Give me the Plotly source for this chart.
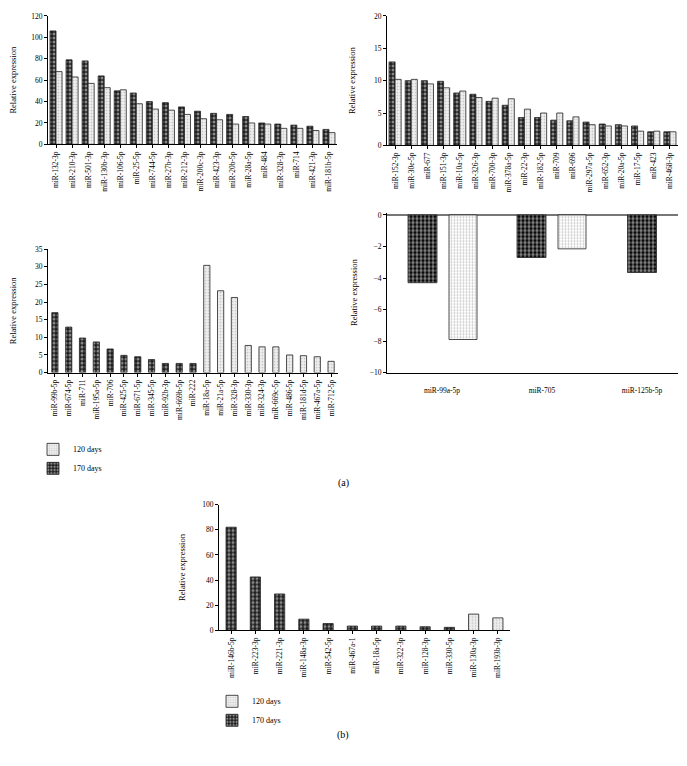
import plotly.graph_objects as go

# ---------------- data ----------------
tl_labels = ["miR-132-3p", "miR-210-3p", "miR-501-3p", "miR-130b-3p", "miR-106-5p", "miR-25-5p",
             "miR-744-5p", "miR-27b-3p", "miR-212-3p", "miR-200c-3p", "miR-423-3p", "miR-20b-5p",
             "miR-28a-5p", "miR-484", "miR-328-3p", "miR-714", "miR-421-3p", "miR-181b-5p"]
tl_170 = [106, 79, 78, 64, 50, 48, 40, 39, 35, 31, 29, 28, 26, 20, 19, 18, 17, 14]
tl_120 = [68, 63, 57, 53, 51, 38, 33, 32, 28, 24, 23, 19, 20, 19, 15, 15, 13, 11]

tr_labels = ["miR-152-3p", "miR-30e-5p", "miR-677", "miR-151-3p", "miR-10a-5p", "miR-326-3p",
             "miR-700-3p", "miR-378a-5p", "miR-22-3p", "miR-182-5p", "miR-709", "miR-696",
             "miR-297a-5p", "miR-652-3p", "miR-20a-5p", "miR-17-5p", "miR-423", "miR-468-3p"]
tr_170 = [12.9, 10.0, 10.0, 9.9, 8.1, 7.9, 6.8, 6.2, 4.3, 4.3, 3.9, 3.8, 3.6, 3.3, 3.2, 3.0, 2.1, 2.1]
tr_120 = [10.2, 10.2, 9.5, 8.9, 8.4, 7.4, 7.3, 7.2, 5.6, 5.0, 5.0, 4.4, 3.2, 3.0, 3.0, 2.2, 2.2, 2.1]

ml_labels_170 = ["miR-99b-5p", "miR-674-5p", "miR-711", "miR-195a-5p", "miR-706", "miR-425-5p",
                 "miR-671-5p", "miR-345-5p", "miR-92b-3p", "miR-669b-5p", "miR-222"]
ml_170 = [17.0, 12.9, 9.8, 8.7, 6.7, 4.9, 4.5, 3.7, 2.6, 2.6, 2.6]
ml_labels_120 = ["miR-18a-5p", "miR-21a-5p", "miR-328-3p", "miR-330-3p", "miR-324-3p", "miR-669c-5p",
                 "miR-486-5p", "miR-181d-5p", "miR-467a-5p", "miR-712-5p"]
ml_120 = [30.4, 23.2, 21.3, 7.7, 7.3, 7.3, 5.0, 4.8, 4.5, 3.2]

mr_labels = ["miR-99a-5p", "miR-705", "miR-125b-5p"]
mr_170 = [-4.3, -2.7, -3.65]
mr_120 = [-7.9, -2.15, None]

b_labels_170 = ["miR-146b-5p", "miR-223-3p", "miR-221-3p", "miR-148a-3p", "miR-542-5p", "miR-467a-1",
                "miR-18a-5p", "miR-322-3p", "miR-128-3p", "miR-330-5p"]
b_170 = [82, 42.5, 29, 9, 5.5, 3.5, 3.5, 3.5, 3.0, 2.5]
b_labels_120 = ["miR-130a-3p", "miR-193b-3p"]
b_120 = [13, 10]

# ---------------- styles ----------------
PAGE_W, PAGE_H = 687, 766
BODY = 8  # default body margin of the page
W, H = PAGE_W - 2 * BODY, PAGE_H - 2 * BODY
FONT = "Liberation Serif"

def dark(size=4, sol=0.45):
    return dict(color="#1e1e1e", line=dict(color="#222", width=0.8),
                pattern=dict(shape=".", fgcolor="#f4f4f4", bgcolor="#1e1e1e", size=size, solidity=sol,
                             fillmode="overlay"))

def light(size=3, sol=0.25):
    return dict(color="#eeeeee", line=dict(color="#222", width=0.8),
                pattern=dict(shape=".", fgcolor="#999999", bgcolor="#eeeeee", size=size, solidity=sol,
                             fillmode="overlay"))

def px_x(a):
    return (a - BODY) / W

def px_y(a):
    return 1 - (a - BODY) / H

def xd(a, b):
    return [px_x(a), px_x(b)]

def yd(top, bottom):
    return [px_y(bottom), px_y(top)]

fig = go.Figure()

# top-left
fig.add_trace(go.Bar(x=tl_labels, y=tl_170, marker=dark(), xaxis="x", yaxis="y", showlegend=False, name="170 days"))
fig.add_trace(go.Bar(x=tl_labels, y=tl_120, marker=light(), xaxis="x", yaxis="y", showlegend=False, name="120 days"))
# top-right
fig.add_trace(go.Bar(x=tr_labels, y=tr_170, marker=dark(), xaxis="x2", yaxis="y2", showlegend=False, name="170 days"))
fig.add_trace(go.Bar(x=tr_labels, y=tr_120, marker=light(), xaxis="x2", yaxis="y2", showlegend=False, name="120 days"))
# middle-left
fig.add_trace(go.Bar(x=ml_labels_170, y=ml_170, marker=dark(), xaxis="x3", yaxis="y3", width=0.45,
                     name="170 days", showlegend=False))
fig.add_trace(go.Bar(x=ml_labels_120, y=ml_120, marker=light(), xaxis="x3", yaxis="y3", width=0.45,
                     name="120 days", showlegend=False))
# legend (a)
fig.add_trace(go.Bar(x=[None], y=[None], marker=light(), name="120 days", legend="legend", xaxis="x3", yaxis="y3"))
fig.add_trace(go.Bar(x=[None], y=[None], marker=dark(), name="170 days", legend="legend", xaxis="x3", yaxis="y3"))
# middle-right
fig.add_trace(go.Bar(x=mr_labels, y=mr_170,
                     marker=dict(color="black", line=dict(color="#222", width=0.8),
                                 pattern=dict(shape=".", fgcolor="white", bgcolor="black", size=4, solidity=0.55)),
                     xaxis="x4", yaxis="y4", width=0.29, offset=[-0.34, -0.25, -0.145],
                     showlegend=False, name="170 days"))
fig.add_trace(go.Bar(x=mr_labels, y=mr_120,
                     marker=dict(color="white", line=dict(color="#222", width=0.8),
                                 pattern=dict(shape=".", fgcolor="#8a8a8a", bgcolor="white", size=3, solidity=0.3)),
                     xaxis="x4", yaxis="y4", width=0.28, offset=[0.07, 0.16, 0.0], showlegend=False, name="120 days"))
# bottom
fig.add_trace(go.Bar(x=b_labels_170, y=b_170, marker=dark(), xaxis="x5", yaxis="y5", width=0.42,
                     name="170 days", showlegend=False))
fig.add_trace(go.Bar(x=b_labels_120, y=b_120, marker=light(), xaxis="x5", yaxis="y5", width=0.42,
                     name="120 days", showlegend=False))
fig.add_trace(go.Bar(x=[None], y=[None], marker=light(), name="120 days", legend="legend2", xaxis="x5", yaxis="y5"))
fig.add_trace(go.Bar(x=[None], y=[None], marker=dark(), name="170 days", legend="legend2", xaxis="x5", yaxis="y5"))

tickfont = dict(family=FONT, size=7.5, color="black")
titlefont = dict(family=FONT, size=8.5, color="black")

def xax(domain, anchor, cats, **kw):
    d = dict(domain=domain, anchor=anchor, type="category", categoryorder="array", categoryarray=cats,
             showline=True, linecolor="black", linewidth=1, ticks="outside", ticklen=3, tickcolor="black",
             tickangle=-90, tickfont=tickfont, showgrid=False, zeroline=False, fixedrange=True)
    d.update(kw)
    return d

def yax(domain, anchor, rng, dtick, standoff=14, **kw):
    d = dict(domain=domain, anchor=anchor, range=rng, dtick=dtick, showline=True, linecolor="black",
             linewidth=1, ticks="outside", ticklen=3, tickcolor="black", tickfont=tickfont, showgrid=False,
             zeroline=False, title=dict(text="Relative expression", font=titlefont, standoff=standoff))
    d.update(kw)
    return d

fig.update_layout(
    width=W, height=H, autosize=False, margin=dict(l=0, r=0, t=0, b=0),
    paper_bgcolor="white", plot_bgcolor="white",
    barmode="group", bargap=0.25, bargroupgap=0.0,
    font=dict(family=FONT, color="black"),
    xaxis=xax(xd(48, 337), "y", tl_labels),
    yaxis=yax(yd(12, 142), "x", [0, 120], 20, standoff=15),
    xaxis2=xax(xd(387, 678), "y2", tr_labels),
    yaxis2=yax(yd(12, 143), "x2", [0, 20], 5, standoff=17),
    xaxis3=xax(xd(48, 338), "y3", ml_labels_170 + ml_labels_120),
    yaxis3=yax(yd(248, 373), "x3", [0, 35], 5, standoff=17),
    xaxis4=xax(xd(387, 678), "y4", mr_labels, tickangle=0, ticks="", range=[-0.55, 2.36], ticklabelstandoff=10),
    yaxis4=yax(yd(211, 373), "x4", [-10, 0.15], 2, standoff=10, zeroline=True, zerolinecolor="#777",
               zerolinewidth=2),
    xaxis5=xax(xd(219, 510), "y5", b_labels_170 + b_labels_120),
    yaxis5=yax(yd(506.5, 634), "x5", [0, 100], 20, standoff=15),
    legend=dict(x=px_x(33), y=px_y(436), xanchor="left", yanchor="top", font=dict(family=FONT, size=8, color="black"),
                bgcolor="rgba(0,0,0,0)", itemwidth=30, tracegroupgap=0, traceorder="normal"),
    legend2=dict(x=px_x(212), y=px_y(691), xanchor="left", yanchor="top", font=dict(family=FONT, size=8, color="black"),
                 bgcolor="rgba(0,0,0,0)", itemwidth=30, tracegroupgap=0, traceorder="normal"),
    annotations=[
        dict(text="(a)", x=px_x(343), y=px_y(485), xref="paper", yref="paper", showarrow=False,
             font=dict(family=FONT, size=10)),
        dict(text="(b)", x=px_x(343), y=px_y(748), xref="paper", yref="paper", showarrow=False,
             font=dict(family=FONT, size=10)),
    ],
)

fig.write_html("out.html")
